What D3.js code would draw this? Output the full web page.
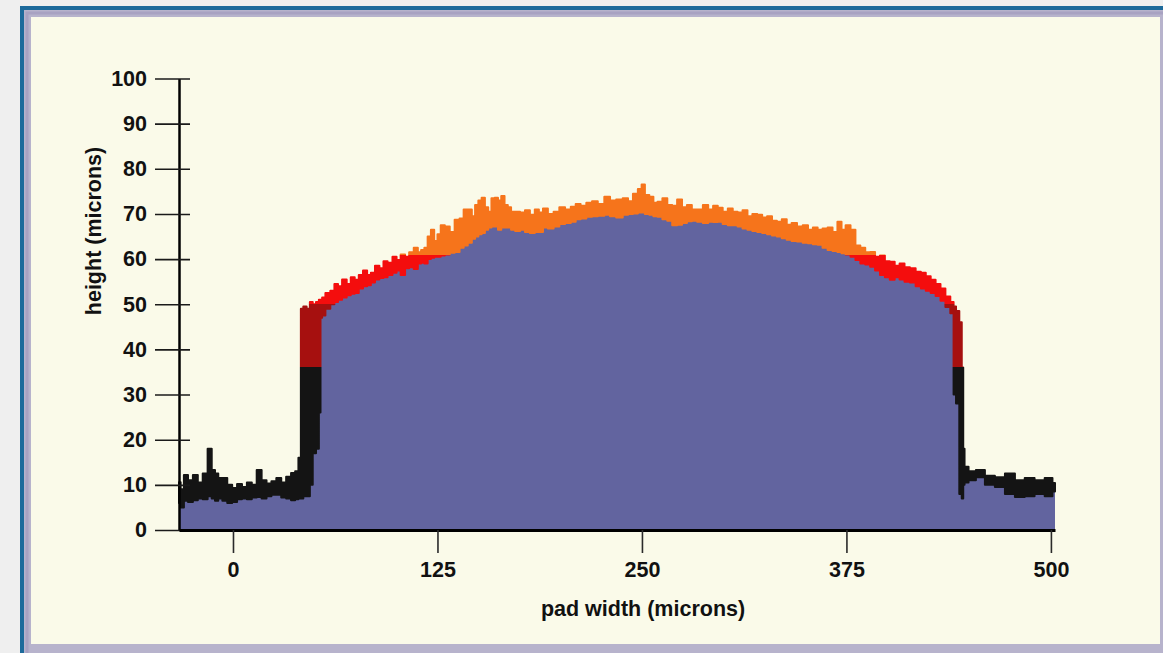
<!DOCTYPE html>
<html>
<head>
<meta charset="utf-8">
<script src="https://cdn.jsdelivr.net/npm/d3@7/dist/d3.min.js"></script>
<style>
html,body{margin:0;padding:0;background:#efefef;overflow:hidden}
text{font-family:"Liberation Sans",Arial,Helvetica,sans-serif;font-weight:bold;fill:#111}
</style>
</head>
<body>
<svg id="chart" width="1163" height="653"></svg>
<script>
// ---- data ----
// position across the pad, microns
const xMicrons = [
  -33,-31,-29,-26,-23,-20,-17,-14,-12,-10,-8,-5,-2,1,4,7,10,13,16,19,22,25,28,31,34,37,39,41,
  42,44,46,48,49.5,52,53,54,
  55,58,61,63,65.4,68,71,73,75.8,78,81,83,85.6,88,91,93,96,99,101,104,106.4,109,112,114,116,118,120,122,124,126,128,131,134,137,140,142,145,147,149,151,153,155,157,159,161,163,165,167,169,171,174,177,180,183,186,188,191,194,198,
  201,205,208,211,214,218,221,225,229,232,236.5,240,243,246,249,250.6,253,256,258,261,264,267,270,273,276,279,282,285.5,289,292,295,297.7,301,304,307,310,313,316,319,322,325,328,331,334,337,340,343,346.6,350,353,356,358.8,362,365,368,371,373,376,379,
  382,385,388,391,394,397,400,403,406,409,412,415.6,419,422,425,428,431,434,437,440,
  441,443,445,446,446.8,447.6,
  451.7,456.6,462.7,468.8,475,481,487,493,499.4,502.5
];
// upper edge of the measured profile (top of the coloured band), microns
const upperHeight = [
  10.6,9,12.2,11,12.2,10.5,12.5,18,13.3,12.5,11.5,11.5,10,9.3,10.2,9.5,10.5,10,13.3,11,10.3,10.8,11.5,10.5,11.8,12.6,13,16,
  49,49.5,49,50.5,50,50.5,51,51,
  51.5,52.5,53,54.5,54,55.5,54.5,56,55.4,56.5,57.5,56.5,57,58.5,58,59.5,59.2,60.5,59.8,61,60.5,61.5,62.5,61.5,62,62.5,65,66.5,64,65.5,67.5,67.2,66,68.7,69,71,71,69.5,72,73,73.6,71.5,70.5,73.5,73.6,73,74,72,71.5,70.5,70.5,70.3,70.8,69.8,71,70.3,71.2,70,70.5,
  71.5,71,71.6,72.2,71.8,72.5,72.8,72.2,73.8,73,73.2,73.5,72.8,74.5,75.5,76.5,74.2,73.8,72.5,72.7,73.5,72,71.8,73.2,71.5,72,71,71,72,71,71.8,71.4,70.5,71.2,70.5,70.3,70.8,69.5,70,69.8,69.2,69.5,68.5,68.3,68.8,67.6,68,67.2,67.5,66.5,67,66.5,66.8,67,66,68.3,66.5,67.5,66.5,
  63,62.5,61.5,61.6,60.5,60.8,59.5,59.4,58.5,59,58.2,58,57.2,57,56.2,55.4,54.5,53.5,51.7,50.5,
  49.5,48.5,46,36,18,14,
  13,13.3,12,11.7,12.5,11,11.5,11,11.5,10.4
];
// lower edge of the profile (top of the filled body), microns
const lowerHeight = [
  6,5,6.5,6.2,6.6,7,6.8,7.5,7,6.5,7,6.5,6,6.2,6.8,7,6.8,7.2,7.3,7,7.5,7.8,7.8,7.2,7,6.6,6.8,7,
  7,7.5,7.5,10,17,18,26,47,
  47.5,49,50,50.5,51,51.5,52,52.3,52.5,53.5,54,54.2,54.8,55.5,55.8,56,56.5,57,57.5,56.5,58,58.2,57.8,59,59.2,59,60,60.3,60.5,60.5,60.8,61,61.4,61.6,62.5,63,63.6,64.5,65,65.5,65.8,66.5,67,67.2,67.2,66.5,67,67,67,66.5,66.2,66.5,66,65.8,66,66,67,66.8,67.2,
  67.8,68,68.3,68.8,69,69.4,69.5,69.6,69.8,69.5,69.2,69.8,70,70.1,70.3,70.3,70,69.8,69.5,69.4,68.8,68.5,67.5,67.6,68,68.4,68.5,68.3,68,68.3,68.2,68.3,67.8,67.5,67.5,67.2,66.8,66.5,66.2,66,65.8,65.5,65.2,65,64.6,64.3,64,63.9,63.6,63.5,63.3,63.2,62.5,62,61.8,61.6,61.3,61,60.5,
  59.8,59,58.8,58.3,57.5,56.5,56,55.4,56,55.5,55,54.8,54,53.5,53,52.5,51.8,50.8,49.4,48,
  30,28,8,7,10,10.5,
  11,11.7,10,9.5,8,7.3,7.5,8,7.5,8.5
];
// colour bands by height (microns)
const bandLimits = [0, 36, 50, 61, 100];
const bandColors = ["#141414", "#a6100f", "#f40d0d", "#f6741b"];

const xTicks = [0, 125, 250, 375, 500];
const yTicks = [0, 10, 20, 30, 40, 50, 60, 70, 80, 90, 100];
const xTitle = "pad width (microns)";
const yTitle = "height (microns)";

// ---- drawing ----
const W = 1163, H = 653;
const svg = d3.select("#chart");

// page frame
svg.append("rect").attr("x", 0).attr("y", 0).attr("width", W).attr("height", H).attr("fill", "#efefef");
svg.append("rect").attr("x", 22).attr("y", 8).attr("width", W + 10).attr("height", H)
  .attr("fill", "#b7b3cc").attr("stroke", "#1d6a9b").attr("stroke-width", 4);
svg.append("rect").attr("x", 27).attr("y", 13).attr("width", W).attr("height", H)
  .attr("fill", "none").attr("stroke", "#a8a2c2").attr("stroke-width", 3);
svg.append("rect").attr("x", 31).attr("y", 17).attr("width", 1129).attr("height", 627).attr("fill", "#fafae9");

const x = d3.scaleLinear().domain([-33, 502.5]).range([179, 1055]);
const y = d3.scaleLinear().domain([0, 100]).range([530, 78.5]);

const pts = xMicrons.map((d, i) => ({x: d, up: upperHeight[i], lo: lowerHeight[i]}));

// gradient with hard stops by height
const defs = svg.append("defs");
const grad = defs.append("linearGradient").attr("id", "hgrad")
  .attr("gradientUnits", "userSpaceOnUse")
  .attr("x1", 0).attr("x2", 0).attr("y1", y(0)).attr("y2", y(100));
bandColors.forEach((c, i) => {
  grad.append("stop").attr("offset", bandLimits[i] / 100).attr("stop-color", c);
  grad.append("stop").attr("offset", bandLimits[i + 1] / 100).attr("stop-color", c);
});

// body fill
svg.append("path").datum(pts)
  .attr("d", d3.area().curve(d3.curveStep).x(d => x(d.x)).y0(y(0)).y1(d => y(d.lo)))
  .attr("fill", "#62649f");

// coloured profile band
svg.append("path").datum(pts)
  .attr("d", d3.area().curve(d3.curveStep).x(d => x(d.x)).y0(d => y(d.lo)).y1(d => y(d.up)))
  .attr("fill", "url(#hgrad)")
  .attr("stroke", "url(#hgrad)").attr("stroke-width", 2).attr("stroke-linejoin", "round");

// axes
const gy = svg.append("g").attr("transform", "translate(179,0)")
  .call(d3.axisLeft(y).tickValues(yTicks).tickSize(24).tickSizeOuter(0).tickPadding(8));
gy.select(".domain").attr("stroke", "#000").attr("stroke-width", 2.5);
gy.selectAll(".tick line").attr("x1", 11).attr("stroke", "#1a1a1a").attr("stroke-width", 1.6);
gy.selectAll(".tick text").style("font-size", "21.5px").attr("fill", "#111");

const gx = svg.append("g").attr("transform", "translate(0,530)")
  .call(d3.axisBottom(x).tickValues(xTicks).tickSize(23).tickSizeOuter(0).tickPadding(9));
gx.select(".domain").attr("stroke", "#000").attr("stroke-width", 3);
gx.selectAll(".tick line").attr("stroke", "#2a2a2a").attr("stroke-width", 1.6);
gx.selectAll(".tick text").style("font-size", "21.5px").attr("fill", "#111");

// titles
svg.append("text").attr("x", 643).attr("y", 616).attr("text-anchor", "middle")
  .style("font-size", "21.5px").text(xTitle);
svg.append("text").attr("transform", "translate(101,231) rotate(-90)").attr("text-anchor", "middle")
  .style("font-size", "21.5px").text(yTitle);
</script>
</body>
</html>
